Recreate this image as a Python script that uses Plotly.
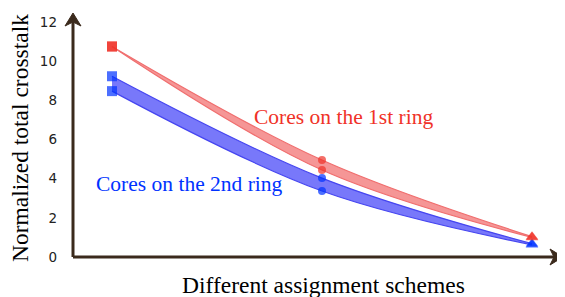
import plotly.graph_objects as go

# ---- data ----
schemes = [1, 2, 3]
symbols = ["square", "circle", "triangle-up"]
y_ticks = [0, 2, 4, 6, 8, 10, 12]
red_upper = [10.75, 4.95, 1.04]
red_lower = [10.75, 4.44, 1.00]
blue_upper = [9.23, 4.03, 0.68]
blue_lower = [8.47, 3.37, 0.62]
red_label = "Cores on the 1st ring"
blue_label = "Cores on the 2nd ring"
x_title = "Different assignment schemes"
y_title = "Normalized total crosstalk"

RED = "rgb(240,50,40)"
RED_LINE = "rgb(240,110,110)"
RED_FILL = "rgba(245,150,150,1)"
BLUE = "rgb(0,50,255)"
BLUE_LINE = "rgb(70,70,240)"
BLUE_FILL = "rgba(120,120,250,1)"
AXIS = "#3b2a1c"

fig = go.Figure()

def band(lower, upper, line_col, fill_col):
    fig.add_trace(go.Scatter(x=schemes, y=lower, mode="lines",
                             line=dict(color=line_col, width=1.2, shape="spline"),
                             hoverinfo="skip", showlegend=False))
    fig.add_trace(go.Scatter(x=schemes, y=upper, mode="lines", fill="tonexty",
                             fillcolor=fill_col,
                             line=dict(color=line_col, width=1.2, shape="spline"),
                             hoverinfo="skip", showlegend=False))

band(blue_lower, blue_upper, BLUE_LINE, BLUE_FILL)
band(red_lower, red_upper, RED_LINE, RED_FILL)

for ys, col in [(blue_lower, BLUE), (blue_upper, BLUE),
                (red_lower, RED), (red_upper, RED)]:
    fig.add_trace(go.Scatter(x=schemes, y=ys, mode="markers",
                             marker=dict(symbol=symbols, color=col,
                                         size=[10, 8, 11], line=dict(width=0)),
                             showlegend=False))

# page body has an 8px margin, so the figure is drawn 8px smaller
W, H = 557, 289
L, R, T, B = 65, 2, 5, 40
pw, ph = W - L - R, H - T - B
xpx = 210.0
x0 = 1 - 39 / xpx
ypx = 235 / 12.0

fig.update_layout(
    width=W, height=H,
    margin=dict(l=L, r=R, t=T, b=B),
    paper_bgcolor="white", plot_bgcolor="white",
    xaxis=dict(range=[x0, x0 + pw / xpx], showgrid=False, zeroline=False,
               showticklabels=False, ticks="", showline=False),
    yaxis=dict(range=[0, ph / ypx], showgrid=False, zeroline=False,
               tickvals=y_ticks, ticktext=[str(v) for v in y_ticks],
               ticks="", ticklabelstandoff=15, showline=False,
               tickfont=dict(family="DejaVu Sans", size=13.5, color="#222")),
    font=dict(family="Liberation Serif"),
    shapes=[
        dict(type="line", xref="paper", yref="paper", x0=0, y0=0,
             x1=1 - 6 / pw, y1=0, line=dict(color=AXIS, width=3)),
        dict(type="line", xref="paper", yref="paper", x0=0, y0=0,
             x1=0, y1=1 - 6 / ph, line=dict(color=AXIS, width=3)),
        dict(type="path", xref="paper", yref="paper",
             xsizemode="pixel", ysizemode="pixel", xanchor=0, yanchor=1,
             path="M 0,0 L -8,-13 L 0,-9 L 8,-13 Z",
             fillcolor=AXIS, line=dict(color=AXIS, width=1)),
        dict(type="path", xref="paper", yref="paper",
             xsizemode="pixel", ysizemode="pixel", xanchor=1, yanchor=0,
             path="M 0,0 L -13,8 L -9,0 L -13,-8 Z",
             fillcolor=AXIS, line=dict(color=AXIS, width=1)),
    ],
    annotations=[
        dict(text=red_label, x=x0 + 270 / xpx, y=140 / ypx, xref="x", yref="y",
             xanchor="center", yanchor="middle", showarrow=False,
             font=dict(family="Liberation Serif", size=21.5, color=RED)),
        dict(text=blue_label, x=x0 + 116 / xpx, y=73 / ypx, xref="x", yref="y",
             xanchor="center", yanchor="middle", showarrow=False,
             font=dict(family="Liberation Serif", size=21.5, color=BLUE)),
        dict(text=x_title, x=250 / pw, y=-28 / ph, xref="paper", yref="paper",
             xanchor="center", yanchor="middle", showarrow=False,
             font=dict(family="Liberation Serif", size=23.5, color="black")),
        dict(text=y_title, x=-53 / pw, y=119 / ph, xref="paper", yref="paper",
             xanchor="center", yanchor="middle", textangle=-90, showarrow=False,
             font=dict(family="Liberation Serif", size=23.5, color="black")),
    ],
)

fig.write_html("out.html")
